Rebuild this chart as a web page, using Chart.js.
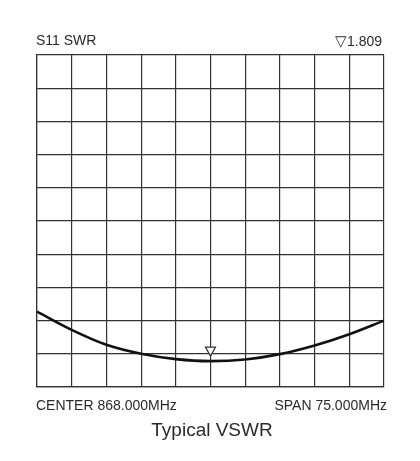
<!DOCTYPE html>
<html><head><meta charset="utf-8">
<script src="https://cdn.jsdelivr.net/npm/chart.js@4"></script>
<style>
html,body{margin:0;padding:0;background:#fff;}
#wrap{position:relative;width:420px;height:461px;overflow:hidden;}
canvas{position:absolute;left:0;top:0;}
.t{position:absolute;font-family:"Liberation Sans",Arial,sans-serif;color:#2a2a2a;white-space:nowrap;line-height:1;}
</style></head><body>
<div id="wrap">
<canvas id="c" width="420" height="461"></canvas>
<div class="t" id="tl" style="left:36px;top:33px;font-size:14px;">S11 SWR</div>
<div class="t" id="tr" style="right:38px;top:33px;font-size:14px;"><span style="font-size:15px;">▽</span>1.809</div>
<div class="t" id="bl" style="left:36px;top:398px;font-size:14px;">CENTER 868.000MHz</div>
<div class="t" id="br" style="right:33px;top:398px;font-size:14px;">SPAN 75.000MHz</div>
<div class="t" id="ti" style="left:0;width:424px;text-align:center;top:420px;font-size:19px;">Typical VSWR</div>
</div>
<script>
const centerMHz = 868.0;
const spanMHz = 75.0;
const freqs = [830.5, 838, 845.5, 853, 860.5, 868, 875.5, 883, 890.5, 898, 905.5];
const swr   = [3.27, 2.72, 2.27, 2.00, 1.84, 1.78, 1.83, 1.99, 2.25, 2.59, 3.00];
const markerFreq = 868.0;
const markerSWR = 1.809;
const yMin = 1, yMax = 11, yStep = 1;

const markerPlugin = {
  id: 'marker',
  afterDatasetsDraw(chart) {
    const ctx = chart.ctx;
    const x = chart.scales.x.getPixelForValue(markerFreq);
    const y = chart.scales.y.getPixelForValue(markerSWR);
    ctx.save();
    ctx.beginPath();
    ctx.moveTo(x - 5, y - 13);
    ctx.lineTo(x + 5, y - 13);
    ctx.lineTo(x, y - 4);
    ctx.closePath();
    ctx.fillStyle = '#fff';
    ctx.fill();
    ctx.strokeStyle = '#333';
    ctx.lineWidth = 1.2;
    ctx.stroke();
    ctx.restore();
  }
};

new Chart(document.getElementById('c'), {
  type: 'line',
  data: {
    datasets: [{
      data: freqs.map((f, i) => ({x: f, y: swr[i]})),
      borderColor: '#111',
      borderWidth: 2.6,
      pointRadius: 0,
      cubicInterpolationMode: 'monotone',
      fill: false
    }]
  },
  options: {
    responsive: false,
    animation: false,
    devicePixelRatio: 1,
    layout: {padding: {left: 37, right: 36, top: 55, bottom: 74}},
    plugins: {legend: {display: false}, tooltip: {enabled: false}},
    scales: {
      x: {
        type: 'linear',
        min: centerMHz - spanMHz / 2,
        max: centerMHz + spanMHz / 2,
        afterBuildTicks: (s) => {
          const t = [];
          for (let i = 0; i <= 10; i++) t.push({value: centerMHz - spanMHz / 2 + i * spanMHz / 10});
          s.ticks = t;
        },
        ticks: {display: false},
        grid: {color: '#333', lineWidth: 1.2, drawTicks: false},
        border: {display: true, color: '#333', width: 1.2}
      },
      y: {
        min: yMin, max: yMax,
        ticks: {display: false, stepSize: yStep},
        grid: {color: '#333', lineWidth: 1.2, drawTicks: false},
        border: {display: true, color: '#333', width: 1.2}
      }
    }
  },
  plugins: [markerPlugin]
});
</script>
</body></html>
